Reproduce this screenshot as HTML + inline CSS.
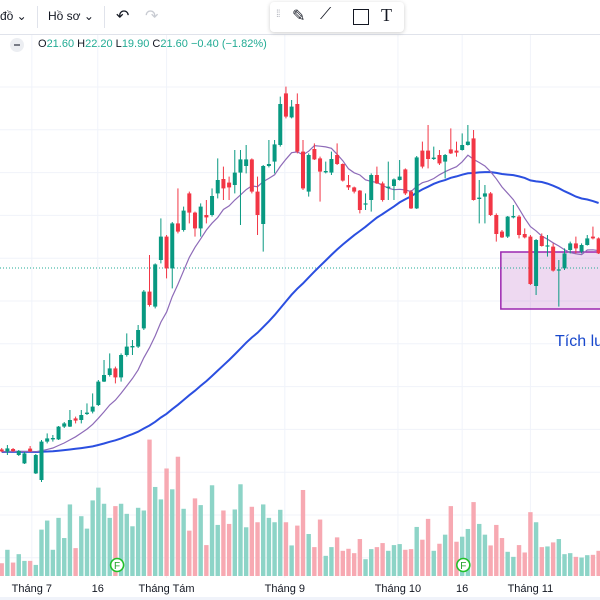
<!DOCTYPE html>
<html><head><meta charset="utf-8">
<style>
body{margin:0;width:600px;height:600px;overflow:hidden;background:#fff;font-family:"Liberation Sans","Noto Sans CJK SC",sans-serif;position:relative}
.tb{position:absolute;font-size:12px;color:#131722}
</style></head>
<body>
<svg id="chart" width="600" height="600" style="position:absolute;left:0;top:0" xmlns="http://www.w3.org/2000/svg"></svg>

<div style="position:absolute;left:0;top:0;width:600px;height:34px;background:#fff;border-bottom:1px solid #e0e3eb"></div>
<div class="tb" style="left:0;top:9px">đồ ⌄</div>
<div style="position:absolute;left:37px;top:6px;width:1px;height:22px;background:#e0e3eb"></div>
<div class="tb" style="left:48px;top:9px">Hồ sơ ⌄</div>
<div style="position:absolute;left:104px;top:6px;width:1px;height:22px;background:#e0e3eb"></div>
<div class="tb" style="left:116px;top:6px;font-size:16px">↶</div>
<div class="tb" style="left:145px;top:6px;font-size:16px;color:#c8cbd2">↷</div>
<div style="position:absolute;left:270px;top:2px;width:134px;height:30px;background:#fff;border-radius:4px;box-shadow:0 1px 4px rgba(0,0,0,.2)">
 <span style="position:absolute;left:6px;top:7px;color:#b2b5be;font-size:10px;letter-spacing:-1px">⁞⁞</span>
 <span style="position:absolute;left:22px;top:4px;font-size:16px;color:#131722">✎</span>
 <span style="position:absolute;left:50px;top:4px;font-size:16px;color:#131722">⟋</span>
 <span style="position:absolute;left:83px;top:7px;width:14px;height:14px;border:1.5px solid #131722"></span>
 <span style="position:absolute;left:111px;top:3px;font-size:18px;font-family:'Liberation Serif',serif;color:#131722">T</span>
</div>
<div style="position:absolute;left:10px;top:38px;width:14px;height:14px;border-radius:7px;background:#eceef2"><div style="position:absolute;left:4px;top:6px;width:6px;height:2px;background:#787b86"></div></div>
<div style="position:absolute;left:38px;top:38px;font-size:11px;color:#131722;white-space:nowrap">O<span style="color:#22ab94">21.60</span> H<span style="color:#22ab94">22.20</span> L<span style="color:#22ab94">19.90</span> C<span style="color:#22ab94">21.60</span> <span style="color:#22ab94">−0.40 (−1.82%)</span></div>
<div style="position:absolute;left:555px;top:333px;font-size:16px;color:#1848cc;white-space:nowrap">Tích lu</div>

<script>
const opens=[12.53,12.42,12.55,12.25,11.83,12.57,11.33,11.0,12.92,13.03,13.03,13.67,13.67,14.08,14.0,14.3,14.42,14.75,15.92,16.25,16.58,16.13,17.25,17.63,17.67,18.58,20.42,19.67,22.0,23.17,21.58,23.83,23.5,25.33,24.37,23.58,24.25,24.25,25.33,26.05,25.87,25.75,26.37,26.7,27.03,25.42,23.8,26.7,26.92,27.75,30.33,29.13,29.8,27.42,25.42,27.55,27.08,26.38,26.37,27.25,26.8,25.75,25.63,25.47,24.77,25.0,26.25,25.83,25.6,25.7,26.0,26.53,25.42,24.58,27.47,27.47,27.05,27.25,26.92,27.53,27.47,27.5,27.75,28.08,25.05,25.17,25.33,24.25,23.42,23.17,24.13,24.17,23.3,23.17,20.7,23.2,22.67,22.67,21.47,21.58,22.5,22.83,22.42,22.75,23.17,23.08];
const highs=[12.6,12.75,12.6,12.5,12.4,12.7,12.3,13.0,13.33,13.25,13.7,13.9,14.5,14.17,14.5,14.83,15.33,16.0,17.0,17.33,16.67,17.33,18.33,18.0,18.75,20.5,22.25,21.83,24.08,23.25,23.9,25.58,24.67,25.42,24.42,24.83,25.0,25.58,27.08,26.67,26.17,27.5,27.5,27.75,27.08,26.17,26.75,28.0,28.0,30.17,30.67,30.0,30.33,28.0,27.33,27.83,27.17,26.92,27.42,27.83,26.83,26.25,25.67,25.5,25.33,26.33,26.67,25.92,26.92,26.08,27.0,26.58,25.5,27.2,27.92,28.75,27.67,27.5,27.3,28.58,27.92,28.33,28.75,28.5,26.0,25.75,25.4,24.33,23.5,24.2,24.75,24.25,23.58,23.25,23.05,23.33,23.25,22.83,22.0,22.58,22.92,23.17,22.83,23.25,23.67,23.13];
const lows=[12.4,12.25,12.4,12.2,11.8,12.4,11.3,10.9,12.83,12.92,13.0,13.6,13.65,13.83,13.83,14.25,14.33,14.7,15.9,16.17,15.83,15.92,17.17,17.25,17.6,18.5,19.67,19.58,21.83,21.08,20.58,23.33,23.42,23.83,23.17,23.17,23.83,24.17,25.08,25.0,25.0,25.33,23.75,26.33,25.33,23.25,22.42,26.63,26.33,27.67,29.08,29.08,27.33,25.5,25.17,27.0,24.92,26.33,26.25,26.75,25.92,25.5,25.33,24.33,24.5,24.42,25.8,24.92,25.0,25.0,25.97,25.25,24.55,24.55,26.58,26.58,27.0,26.75,26.08,27.3,27.17,27.47,27.72,24.97,23.83,23.83,24.2,22.92,23.1,23.1,24.08,23.08,23.08,20.75,20.25,22.67,22.17,21.42,19.67,21.5,22.33,22.33,22.33,22.72,23.03,22.3];
const closes=[12.43,12.58,12.45,12.45,12.33,12.43,12.25,12.92,13.08,13.1,13.67,13.83,14.0,13.97,14.25,14.37,14.67,15.92,16.25,16.58,16.13,17.25,17.67,17.7,18.5,20.42,19.75,21.78,23.17,21.58,23.83,23.42,24.47,24.37,23.58,24.67,24.13,25.2,26.0,25.58,25.63,26.37,27.03,27.03,25.42,24.25,26.7,26.8,27.78,29.8,29.17,29.67,27.42,25.58,27.25,27.03,26.42,26.45,27.05,26.8,25.97,25.63,25.42,24.5,24.83,26.25,25.83,25.0,25.67,26.03,26.17,25.33,24.58,27.13,26.67,27.05,27.12,26.83,27.25,27.33,27.37,27.75,27.92,25.0,25.12,25.33,24.25,23.3,23.13,24.17,24.2,23.25,23.13,20.8,23.0,22.7,22.73,21.47,21.53,22.33,22.83,22.58,22.75,23.08,23.08,22.33];
const volumes=[3.8,7.8,4.0,6.5,4.5,4.5,3.3,13.8,16.5,7.8,17.3,11.3,21.3,8.3,17.8,14.1,22.5,26.3,21.5,17.3,20.8,21.5,18.5,14.8,20.3,19.5,40.6,26.5,22.8,32.0,25.8,35.5,20.0,13.5,23.1,21.1,9.2,27.0,15.2,19.5,15.5,19.8,27.3,14.5,20.6,16.0,21.3,17.3,16.0,19.7,16.0,9.1,15.0,25.6,12.5,8.6,16.8,6.0,8.6,11.5,7.5,8.1,6.8,11.0,5.0,8.0,8.6,9.8,7.5,9.2,9.5,7.8,8.0,14.6,10.8,17.0,7.5,9.6,12.3,20.8,10.2,11.7,14.0,22.0,15.5,12.3,9.1,15.2,11.3,7.2,5.7,9.2,7.0,19.0,16.0,8.6,8.8,10.0,11.0,6.5,6.8,5.7,5.5,6.2,6.3,7.5];
const priorClose=12.4;
const lastPrice=21.6;
const timeLabels=["Tháng 7","16","Tháng Tám","Tháng 9","Tháng 10","16","Tháng 11"];
const timeLabelIdx=[5.3,16.9,29,49.8,69.7,81,93];
const eventIdx=[20.3,81.2];
const boxRange=[87.8,106,19.55,22.4];
const fastPeriod=10, slowPeriod=50;

const NS="http://www.w3.org/2000/svg";
const svg=document.getElementById('chart');
const xS=i=>1.7+i*5.685;
const yS=p=>700-20*p;
const vS=v=>v*3.36;
const base=576;
function el(t,a,parent){const e=document.createElementNS(NS,t);for(const k in a)e.setAttribute(k,a[k]);(parent||svg).appendChild(e);return e;}

const grid=el('g',{});


for(let k=0;k<12;k++){const y=87+k*42.8;const l=el('line',{x1:0,x2:600,y1:y,y2:y,stroke:'#f0f3fa','stroke-width':1},grid);}
timeLabelIdx.forEach(i=>{const x=xS(i);const l=el('line',{x1:x,x2:x,y1:34,y2:578,stroke:'#f0f3fa','stroke-width':1},grid);});

const vg=el('g',{});


volumes.forEach((v,i)=>{const up=closes[i]>=opens[i];const h=vS(v);const r=el('rect',{x:xS(i)-2.2,y:base-h,width:4.4,height:h,fill:up?'#8dd4c7':'#f7a9b2'},vg);});

const bx=el('rect',{x:xS(boxRange[0]),y:yS(boxRange[3]),width:xS(boxRange[1])-xS(boxRange[0]),height:yS(boxRange[2])-yS(boxRange[3]),fill:'rgba(186,104,200,0.25)',stroke:'#9c27b0','stroke-width':1.5});



const lp=el('line',{x1:0,x2:600,y1:yS(lastPrice),y2:yS(lastPrice),stroke:'#22ab94','stroke-width':1,'stroke-dasharray':'1 2'});



function sma(n){return closes.map((c,i)=>{let s=0;for(let k=i-n+1;k<=i;k++)s+=k<0?priorClose:closes[k];return s/n;});}
function path(arr){return arr.map((v,i)=>(i?'L':'M')+xS(i).toFixed(1)+' '+yS(v).toFixed(1)).join(' ');}
const slow=el('path',{d:path(sma(slowPeriod)),fill:'none',stroke:'#2b4fe0','stroke-width':2});


const fast=el('path',{d:path(sma(fastPeriod)),fill:'none',stroke:'#8e6bb8','stroke-width':1.2});



const cg=el('g',{});


opens.forEach((o,i)=>{const c=closes[i];const up=c>=o;const col=up?'#089981':'#f23645';const x=xS(i);
 const w=el('line',{x1:x,x2:x,y1:yS(highs[i]),y2:yS(lows[i]),stroke:col,'stroke-width':1},cg);
 const t=yS(Math.max(o,c)),b=yS(Math.min(o,c));
 const r=el('rect',{x:x-2,y:t,width:4,height:Math.max(1.2,b-t),fill:col},cg);});

const ax=el('rect',{x:0,y:597,width:600,height:3,fill:'#f0f3fa'});


timeLabels.forEach((s,k)=>{const t=el('text',{x:xS(timeLabelIdx[k]),y:592,'font-size':11,'text-anchor':'middle',fill:'#131722','font-family':'Liberation Sans, sans-serif'});t.textContent=s;});
eventIdx.forEach(i=>{const g=el('g',{});
 el('circle',{cx:xS(i),cy:565,r:6.5,fill:'#fff',stroke:'#22c02a','stroke-width':1.6},g);
 const t=el('text',{x:xS(i),y:569,'font-size':10,'text-anchor':'middle',fill:'#22a02a','font-family':'Liberation Sans, sans-serif'},g);t.textContent='F';});
</script>
</body></html>
